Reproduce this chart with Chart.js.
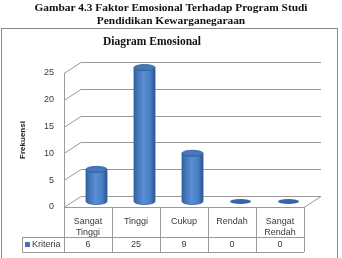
<!DOCTYPE html>
<html>
<head>
<meta charset="utf-8">
<script src="https://cdn.jsdelivr.net/npm/chart.js@4.4.0/dist/chart.umd.min.js"></script>
<style>
  html, body { margin: 0; padding: 0; background: #fff; }
  #wrap { position: relative; width: 342px; height: 258px; overflow: hidden; }
  #chart { position: absolute; left: 0; top: 0; }
  #caption {
    position: absolute; left: 0; top: 1px; width: 342px; text-align: center;
    font: bold 11.4px "Liberation Serif", serif; line-height: 13px; color: #111;
  }
</style>
</head>
<body>
<div id="wrap">
  <canvas id="chart" width="342" height="258"></canvas>
  <div id="caption">Gambar 4.3 Faktor Emosional Terhadap Program Studi<br>Pendidikan Kewarganegaraan</div>
</div>
<script>
// data
const categories = [['Sangat', 'Tinggi'], 'Tinggi', 'Cukup', 'Rendah', ['Sangat', 'Rendah']];
const kriteria = [6, 25, 9, 0, 0];
const seriesName = 'Kriteria';
const yTickStep = 5;
const yMax = 25;

// 3d look: depth of the floor / walls in pixels
const DX = 17, DY = 11;
const frameColor = '#9a9a9a';
const textColor = '#3a3a3a';
const sansFont = '"Liberation Sans", Arial, sans-serif';

const frame3d = {
  id: 'frame3d',
  beforeDatasetsDraw(chart) {
    const { ctx, chartArea: { left, right, bottom }, scales: { y } } = chart;
    ctx.save();
    // outer chart box
    ctx.strokeStyle = '#8a8a8a';
    ctx.lineWidth = 1;
    ctx.strokeRect(1.5, 28.5, 336, 260);

    ctx.strokeStyle = frameColor;
    ctx.beginPath();
    for (let v = yTickStep; v <= yMax; v += yTickStep) {
      const py = Math.round(y.getPixelForValue(v)) + 0.5;
      // back wall grid line
      ctx.moveTo(left + DX, py - DY);
      ctx.lineTo(right + DX, py - DY);
      // side wall diagonal
      ctx.moveTo(left, py);
      ctx.lineTo(left + DX, py - DY);
    }
    // floor
    const y0 = Math.round(y.getPixelForValue(0)) + 0.5;
    ctx.moveTo(left, y0);
    ctx.lineTo(left + DX, y0 - DY);
    ctx.lineTo(right + DX, y0 - DY);
    ctx.lineTo(right, y0);
    // front left edge
    ctx.moveTo(left + 0.5, Math.round(y.getPixelForValue(yMax)));
    ctx.lineTo(left + 0.5, y0);
    ctx.stroke();
    ctx.restore();
  }
};

const cylinders = {
  id: 'cylinders',
  afterDatasetsDraw(chart) {
    const { ctx } = chart;
    const meta = chart.getDatasetMeta(0);
    ctx.save();
    meta.data.forEach((bar) => {
      const cx = bar.x + DX / 2;
      const top = bar.y - DY / 2;
      const base = bar.base - DY / 2;
      const rx = bar.width / 2;
      const ry = 3;
      if (base - top > 0.5) {
        const g = ctx.createLinearGradient(cx - rx, 0, cx + rx, 0);
        g.addColorStop(0, '#3464a6');
        g.addColorStop(0.45, '#5a8ed2');
        g.addColorStop(0.75, '#4c80c6');
        g.addColorStop(1, '#2a5592');
        ctx.beginPath();
        ctx.moveTo(cx - rx, top);
        ctx.lineTo(cx - rx, base);
        ctx.ellipse(cx, base, rx, ry, 0, Math.PI, 0, true);
        ctx.lineTo(cx + rx, top);
        ctx.ellipse(cx, top, rx, ry, 0, 0, Math.PI, false);
        ctx.closePath();
        ctx.fillStyle = g;
        ctx.fill();
        ctx.strokeStyle = '#2f5a94';
        ctx.lineWidth = 0.8;
        ctx.stroke();
        ctx.beginPath();
        ctx.ellipse(cx, top, rx, ry, 0, 0, Math.PI * 2);
        ctx.fillStyle = '#4677ba';
        ctx.fill();
        ctx.stroke();
      } else {
        ctx.beginPath();
        ctx.ellipse(cx, base, rx, ry - 0.5, 0, 0, Math.PI * 2);
        ctx.fillStyle = '#3465a6';
        ctx.fill();
      }
    });
    ctx.restore();
  }
};

const dataTable = {
  id: 'dataTable',
  afterDraw(chart) {
    const { ctx, chartArea: { left, right, bottom }, scales: { x } } = chart;
    const rowTop = bottom;
    const rowMid = bottom + 30;
    const rowBot = bottom + 45;
    const keyLeft = 22;
    ctx.save();
    ctx.strokeStyle = frameColor;
    ctx.lineWidth = 1;
    ctx.beginPath();
    ctx.moveTo(left, rowTop + 0.5); ctx.lineTo(right, rowTop + 0.5);
    ctx.moveTo(keyLeft, rowMid + 0.5); ctx.lineTo(right, rowMid + 0.5);
    ctx.moveTo(keyLeft, rowBot + 0.5); ctx.lineTo(right, rowBot + 0.5);
    ctx.moveTo(keyLeft + 0.5, rowMid); ctx.lineTo(keyLeft + 0.5, rowBot);
    const n = categories.length;
    const step = (right - left) / n;
    for (let i = 0; i <= n; i++) {
      const px = Math.round(left + i * step) + 0.5;
      ctx.moveTo(px, rowTop); ctx.lineTo(px, rowBot);
    }
    ctx.stroke();

    // legend key + series values
    const vy = (rowMid + rowBot) / 2 + 0.5;
    ctx.fillStyle = '#3f74b8';
    ctx.fillRect(keyLeft + 3, vy - 3, 5, 5);
    ctx.fillStyle = textColor;
    ctx.font = '9px ' + sansFont;
    ctx.textBaseline = 'middle';
    ctx.textAlign = 'left';
    ctx.fillText(seriesName, keyLeft + 10, vy);
    ctx.textAlign = 'center';
    kriteria.forEach((v, i) => {
      ctx.fillText(String(v), x.getPixelForValue(i), vy);
    });
    ctx.restore();
  }
};

new Chart(document.getElementById('chart'), {
  type: 'bar',
  data: {
    labels: categories,
    datasets: [{
      label: seriesName,
      data: kriteria,
      backgroundColor: 'rgba(0,0,0,0)',
      borderWidth: 0,
      categoryPercentage: 0.5,
      barPercentage: 0.875
    }]
  },
  options: {
    responsive: false,
    animation: false,
    layout: { padding: { left: 0, right: 38, top: 29, bottom: 0 } },
    plugins: {
      legend: { display: false },
      tooltip: { enabled: false },
      title: {
        display: true,
        text: 'Diagram Emosional',
        color: '#111',
        font: { family: '"Liberation Serif", serif', size: 11.5, weight: 'bold', lineHeight: 1.2 },
        padding: { top: 6, bottom: 24.2 }
      }
    },
    scales: {
      x: {
        grid: { display: false, drawTicks: false },
        border: { display: false },
        ticks: { padding: 9, color: textColor, font: { family: sansFont, size: 9, lineHeight: 1.25 }, maxRotation: 0, autoSkip: false },
        afterFit(s) { s.height = 51; }
      },
      y: {
        min: 0,
        max: yMax,
        grid: { display: false, drawTicks: false },
        border: { display: false },
        ticks: { stepSize: yTickStep, padding: 10, color: textColor, font: { family: sansFont, size: 9 } },
        title: {
          display: true,
          text: 'Frekuensi',
          color: '#222',
          font: { family: sansFont, size: 8, weight: 'bold' },
          padding: { top: 18, bottom: 0 }
        },
        afterFit(s) { s.width = 64; }
      }
    }
  },
  plugins: [frame3d, cylinders, dataTable]
});
</script>
</body>
</html>
